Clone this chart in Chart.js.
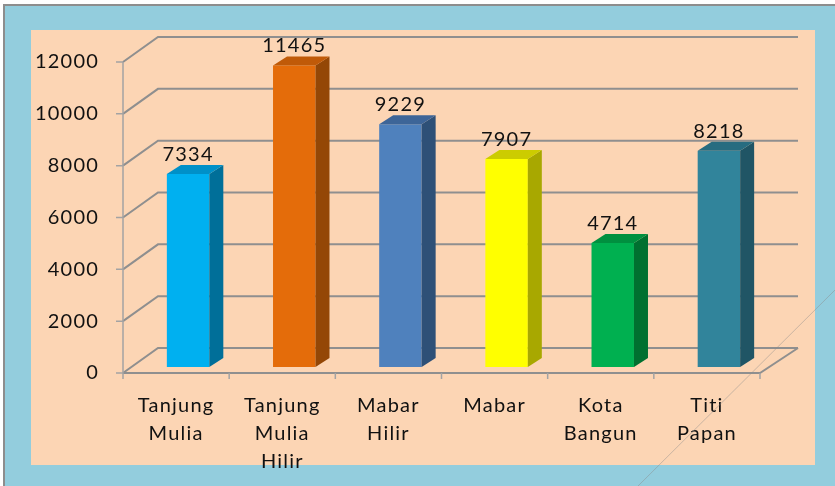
<!DOCTYPE html>
<html lang="id">
<head>
<meta charset="UTF-8">
<title>Grafik</title>
<style>
  html, body { margin: 0; padding: 0; background: #fff; }
  #wrap { width: 835px; height: 486px; position: relative; }
</style>
<script src="https://cdn.jsdelivr.net/npm/chart.js"></script>
</head>
<body>
<div id="wrap"><canvas id="chart"></canvas></div>
<script>
// data
const categories = [['Tanjung', 'Mulia'], ['Tanjung', 'Mulia', 'Hilir'], ['Mabar', 'Hilir'], 'Mabar', ['Kota', 'Bangun'], ['Titi', 'Papan']];
const values = [7334, 11465, 9229, 7907, 4714, 8218];
const yTicks = [0, 2000, 4000, 6000, 8000, 10000, 12000];

// colours: front face, side face, top face
const frontColors = ['#00b0f0', '#e46c0a', '#4f81bd', '#ffff00', '#00b050', '#31849b'];
const sideColors  = ['#006f99', '#944706', '#2e5077', '#a8a800', '#007030', '#205565'];
const topColors   = ['#0090c8', '#c05a08', '#3d6598', '#cccc00', '#00903f', '#276c80'];

// 3d look
const BACK_DX = 35, BACK_DY = -25;   // back wall offset
const BAR_DX = 14, BAR_DY = -9;      // bar depth
const BAR_SHIFT = 12, BAR_BASE = 367, BAR_K = 1.015;

const frame = {
    id: 'frame',
    beforeDraw(chart) {
        const ctx = chart.ctx;
        ctx.save();
        ctx.fillStyle = '#ffffff';
        ctx.fillRect(0, 0, 835, 486);
        ctx.fillStyle = '#8d8d8d';
        ctx.fillRect(3, 4, 832, 482);
        ctx.fillStyle = '#93cddd';
        ctx.fillRect(5, 6, 830, 480);
        ctx.fillStyle = '#fcd5b4';
        ctx.fillRect(31, 30, 784, 435);
        ctx.restore();
        // the slide font is spaced out a little
        ctx.letterSpacing = '1.2px';
    },
    afterDraw(chart) {
        const ctx = chart.ctx;
        ctx.save();
        ctx.strokeStyle = 'rgba(140,140,140,0.45)';
        ctx.lineWidth = 1;
        ctx.beginPath();
        ctx.moveTo(638, 486);
        ctx.lineTo(835, 290);
        ctx.stroke();
        ctx.restore();
    }
};

const bars3d = {
    id: 'bars3d',
    beforeDatasetsDraw(chart) {
        const { ctx, chartArea: a, scales: { x, y } } = chart;
        ctx.save();
        ctx.strokeStyle = '#8f8f8f';
        ctx.lineWidth = 2;
        // back wall + side wall lines
        yTicks.forEach(v => {
            const py = y.getPixelForValue(v);
            ctx.beginPath();
            ctx.moveTo(a.left, py);
            ctx.lineTo(a.left + BACK_DX, py + BACK_DY);
            ctx.lineTo(a.right + BACK_DX + 3, py + BACK_DY);
            ctx.stroke();
        });
        // floor
        const y0 = y.getPixelForValue(0);
        ctx.beginPath();
        ctx.moveTo(a.left, y0);
        ctx.lineTo(a.right, y0);
        ctx.lineTo(a.right + BACK_DX + 3, y0 + BACK_DY);
        ctx.stroke();
        // front y axis and tick marks
        ctx.strokeStyle = '#a3a3a3';
        ctx.lineWidth = 1.5;
        ctx.beginPath();
        ctx.moveTo(a.left, y.getPixelForValue(12000));
        ctx.lineTo(a.left, y0);
        yTicks.forEach(v => {
            const py = y.getPixelForValue(v);
            ctx.moveTo(a.left - 7, py);
            ctx.lineTo(a.left, py);
        });
        const step = (a.right - a.left) / values.length;
        for (let i = 0; i <= values.length; i++) {
            const px = a.left + i * step;
            ctx.moveTo(px, y0);
            ctx.lineTo(px, y0 + 6);
        }
        ctx.stroke();
        ctx.restore();

        // bars are drawn a bit behind the front plane
        ctx.save();
        ctx.translate(BAR_SHIFT, BAR_BASE);
        ctx.scale(1, BAR_K);
        ctx.translate(0, -y0);
    },
    afterDatasetsDraw(chart) {
        const { ctx, scales: { y } } = chart;
        const meta = chart.getDatasetMeta(0);
        meta.data.forEach((bar, i) => {
            const { x, y: top, base, width } = bar.getProps(['x', 'y', 'base', 'width'], true);
            const l = x - width / 2, r = x + width / 2;
            const dy = BAR_DY / BAR_K;
            ctx.fillStyle = sideColors[i];
            ctx.beginPath();
            ctx.moveTo(r, top);
            ctx.lineTo(r + BAR_DX, top + dy);
            ctx.lineTo(r + BAR_DX, base + dy);
            ctx.lineTo(r, base);
            ctx.closePath();
            ctx.fill();
            ctx.fillStyle = topColors[i];
            ctx.beginPath();
            ctx.moveTo(l, top);
            ctx.lineTo(l + BAR_DX, top + dy);
            ctx.lineTo(r + BAR_DX, top + dy);
            ctx.lineTo(r, top);
            ctx.closePath();
            ctx.fill();
        });
        ctx.restore();

        // value labels
        const y0 = y.getPixelForValue(0);
        ctx.save();
        ctx.fillStyle = '#111';
        ctx.font = '20px Lato';
        ctx.textAlign = 'center';
        ctx.textBaseline = 'alphabetic';
        meta.data.forEach((bar, i) => {
            const top = BAR_BASE + (bar.y - y0) * BAR_K;
            ctx.fillText(String(values[i]), bar.x + BAR_SHIFT, top - 13);
        });
        ctx.restore();
    }
};

new Chart(document.getElementById('chart'), {
    type: 'bar',
    data: {
        labels: categories,
        datasets: [{
            data: values,
            backgroundColor: frontColors,
            borderWidth: 0,
            barPercentage: 0.4,
            categoryPercentage: 1,
            clip: false
        }]
    },
    options: {
        responsive: true,
        maintainAspectRatio: false,
        animation: false,
        events: [],
        layout: { padding: { left: 0, top: 62, right: 75, bottom: 0 } },
        plugins: { legend: { display: false }, tooltip: { enabled: false } },
        scales: {
            x: {
                grid: { display: false, drawTicks: false },
                border: { display: false },
                ticks: {
                    color: '#111',
                    font: { family: 'Lato', size: 20, lineHeight: 1.42 },
                    padding: 18,
                    maxRotation: 0,
                    autoSkip: false
                },
                afterFit(scale) { scale.height = 113; }
            },
            y: {
                min: 0,
                max: 12000,
                grid: { display: false, drawTicks: false },
                border: { display: false },
                ticks: {
                    stepSize: 2000,
                    color: '#111',
                    font: { family: 'Lato', size: 20 },
                    padding: 24,
                    callback: v => String(v)
                },
                afterFit(scale) { scale.width = 123; }
            }
        }
    },
    plugins: [frame, bars3d]
});
</script>
</body>
</html>
